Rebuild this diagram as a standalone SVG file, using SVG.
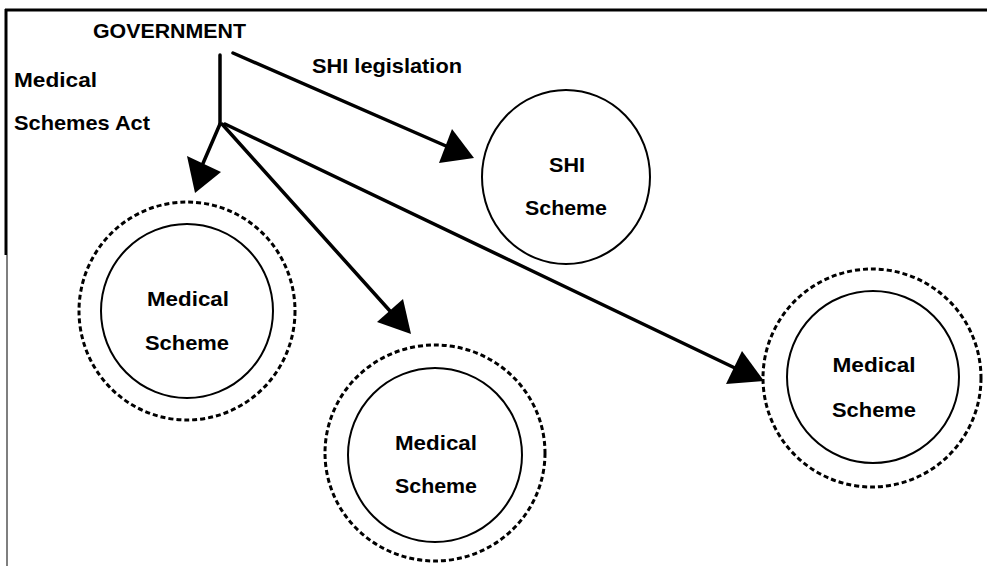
<svg xmlns="http://www.w3.org/2000/svg" width="987" height="566" viewBox="0 0 987 566">
<style>
text{font-family:"Liberation Sans",Arial,sans-serif;font-weight:bold;font-size:21px;fill:#000}
.lbl{text-anchor:middle}
.inner{fill:none;stroke:#000;stroke-width:2}
.outer{fill:none;stroke:#000;stroke-width:3;stroke-dasharray:5 3}
.conn{fill:none;stroke:#000;stroke-width:3.5;stroke-linecap:round}
</style>
<rect width="987" height="566" fill="#fff"/>
<g id="frame">
<line x1="5" y1="10" x2="987" y2="10" stroke="#000" stroke-width="3"/>
<line x1="6" y1="9" x2="6" y2="255" stroke="#000" stroke-width="3"/>
<line x1="7" y1="255" x2="7" y2="566" stroke="#555" stroke-width="1.5"/>
</g>
<g id="government">
<text x="93" y="38" textLength="153" lengthAdjust="spacingAndGlyphs">GOVERNMENT</text>
</g>
<g id="labels">
<text x="14" y="87" textLength="83" lengthAdjust="spacingAndGlyphs">Medical</text>
<text x="14" y="130" textLength="136" lengthAdjust="spacingAndGlyphs">Schemes Act</text>
<text x="312" y="73" textLength="150" lengthAdjust="spacingAndGlyphs">SHI legislation</text>
</g>
<g id="connectors">
<line class="conn" x1="220" y1="55" x2="220" y2="124"/>
<line class="conn" x1="233" y1="53" x2="446" y2="146"/>
<path d="M474,158 L439,163 L452,129 Z" fill="#000"/>
<line class="conn" x1="220" y1="124" x2="201" y2="168"/>
<path d="M195,193 L187,156 L221,172 Z" fill="#000"/>
<line class="conn" x1="222" y1="124" x2="390" y2="311"/>
<path d="M411,334 L377,322 L403,299 Z" fill="#000"/>
<line class="conn" x1="225" y1="124" x2="737" y2="369"/>
<path d="M764,381 L726,384 L742,351 Z" fill="#000"/>
</g>
<g id="shi-scheme">
<ellipse class="inner" cx="566" cy="177" rx="84" ry="87"/>
<text class="lbl" x="567" y="172" textLength="36" lengthAdjust="spacingAndGlyphs">SHI</text>
<text class="lbl" x="566" y="215" textLength="82" lengthAdjust="spacingAndGlyphs">Scheme</text>
</g>
<g id="medical-scheme-1">
<ellipse class="outer" cx="187" cy="311" rx="108" ry="109"/>
<ellipse class="inner" cx="187" cy="311" rx="86" ry="87"/>
<text class="lbl" x="188" y="306" textLength="82" lengthAdjust="spacingAndGlyphs">Medical</text>
<text class="lbl" x="187" y="350" textLength="84" lengthAdjust="spacingAndGlyphs">Scheme</text>
</g>
<g id="medical-scheme-2">
<ellipse class="outer" cx="435" cy="453" rx="110" ry="108"/>
<ellipse class="inner" cx="435" cy="455" rx="87" ry="87"/>
<text class="lbl" x="436" y="450" textLength="82" lengthAdjust="spacingAndGlyphs">Medical</text>
<text class="lbl" x="436" y="493" textLength="82" lengthAdjust="spacingAndGlyphs">Scheme</text>
</g>
<g id="medical-scheme-3">
<ellipse class="outer" cx="872" cy="378" rx="109" ry="109"/>
<ellipse class="inner" cx="873" cy="377" rx="86" ry="86"/>
<text class="lbl" x="874" y="372" textLength="83" lengthAdjust="spacingAndGlyphs">Medical</text>
<text class="lbl" x="874" y="417" textLength="84" lengthAdjust="spacingAndGlyphs">Scheme</text>
</g>
</svg>
